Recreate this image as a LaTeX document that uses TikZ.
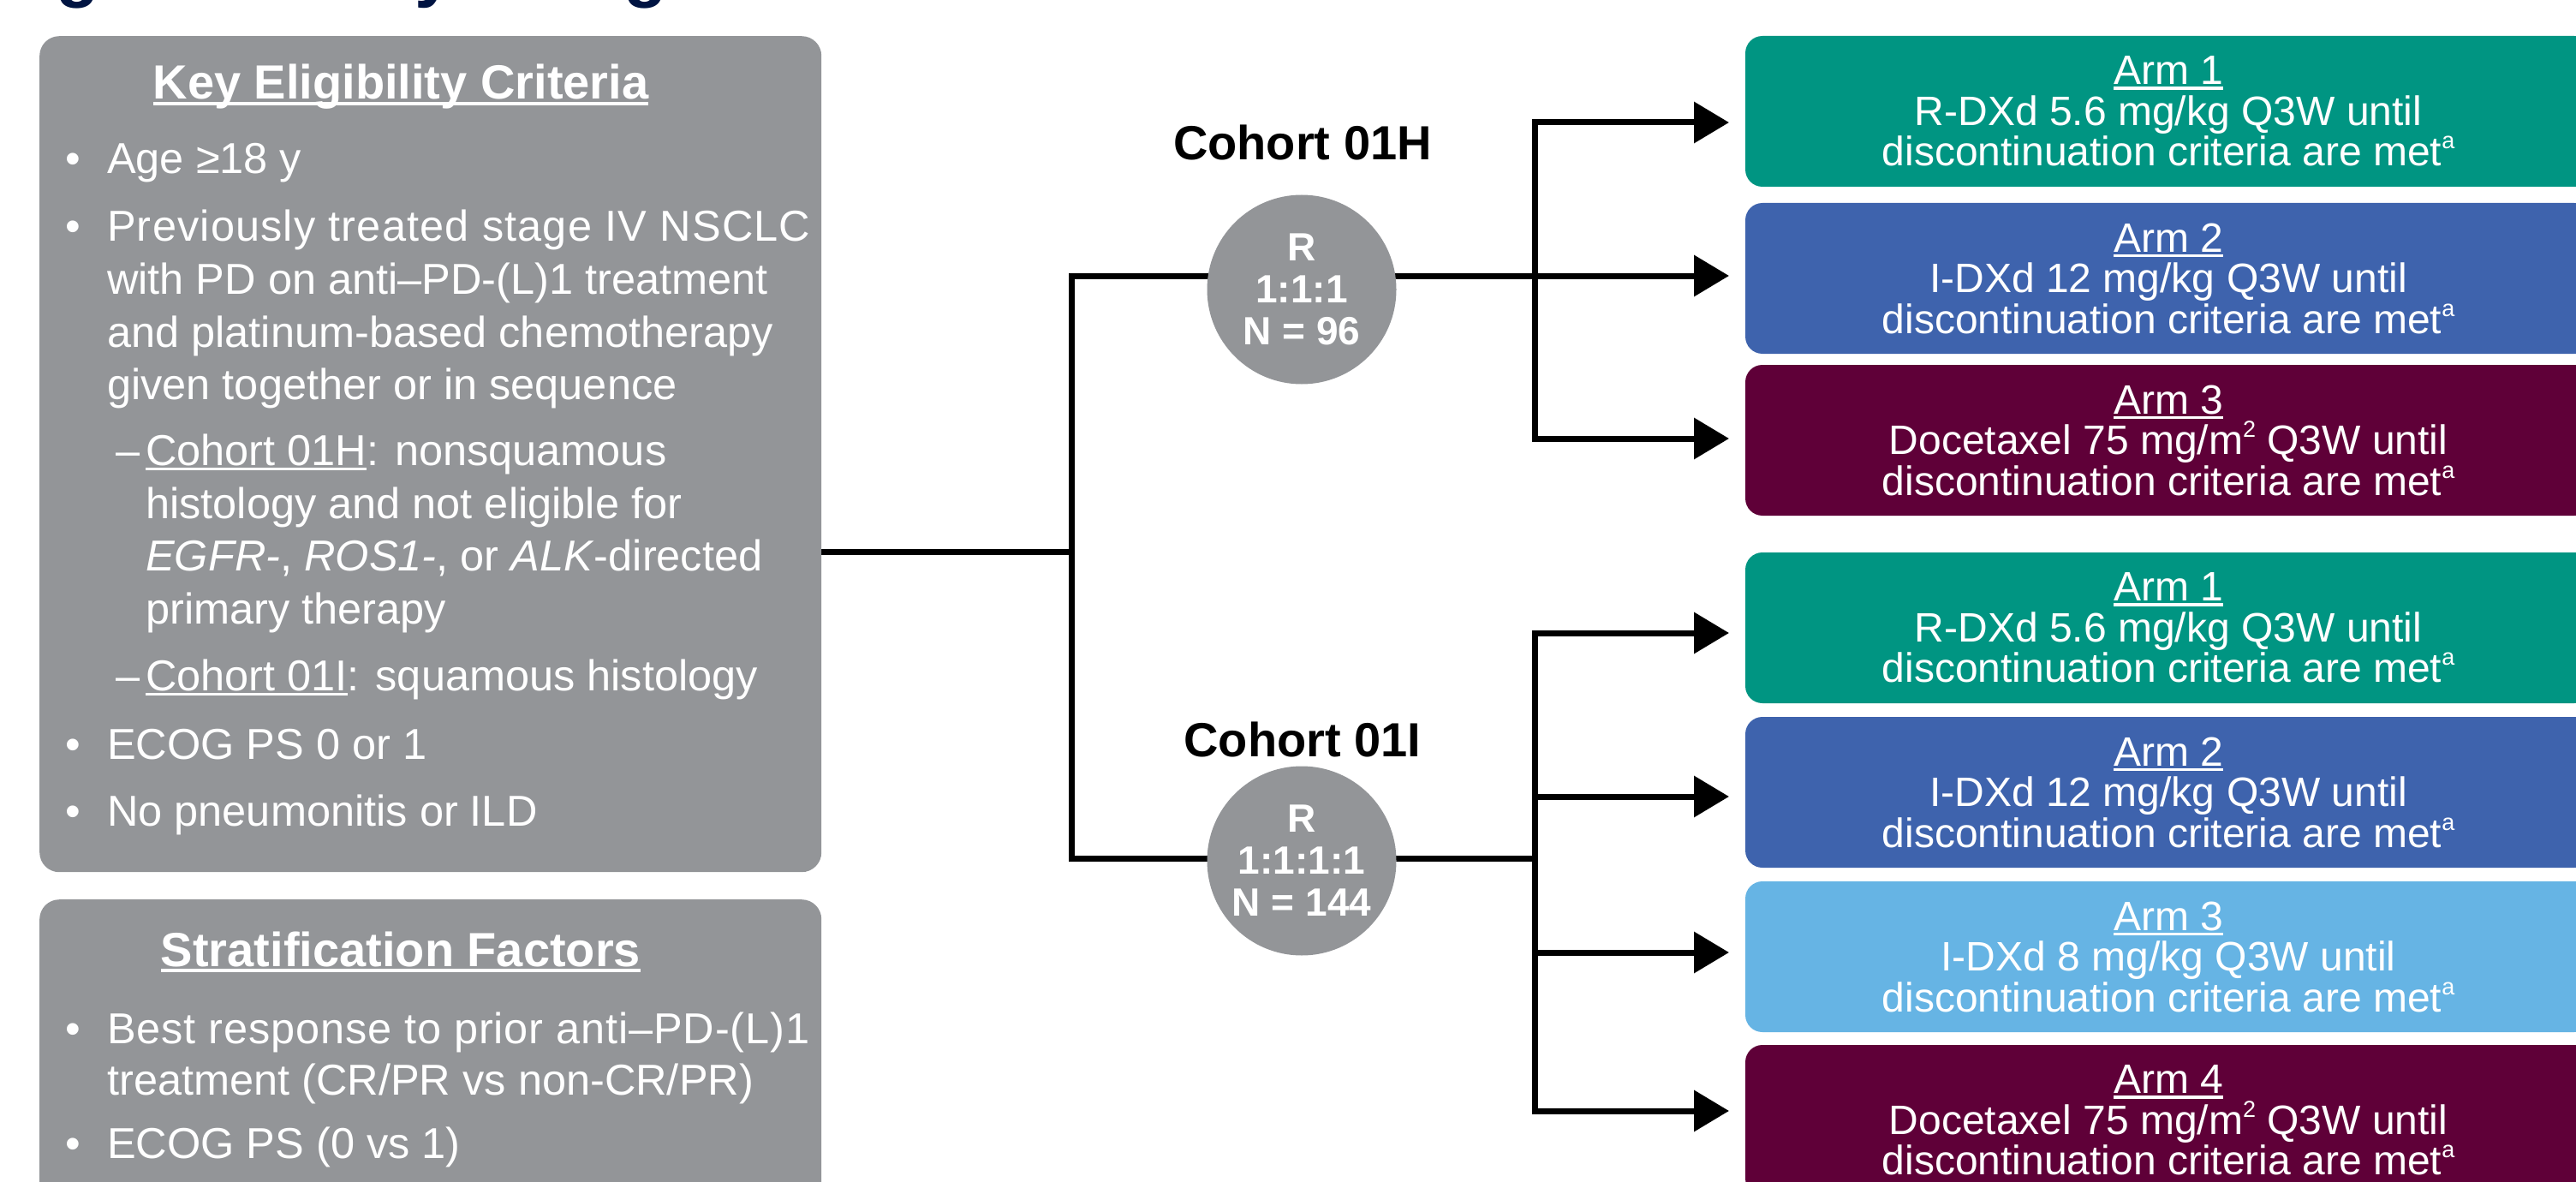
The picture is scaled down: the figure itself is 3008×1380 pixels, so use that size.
\documentclass[tikz,border=0pt]{standalone}
\usepackage{fontspec}
\setmainfont{Liberation Sans}
\usetikzlibrary{arrows.meta}

\definecolor{panelgrey}{RGB}{147,149,152}
\definecolor{armteal}{RGB}{0,149,130}
\definecolor{armblue}{RGB}{62,99,173}
\definecolor{armsky}{RGB}{102,180,228}
\definecolor{armplum}{RGB}{95,0,56}
\definecolor{titlenavy}{RGB}{0,20,66}

% underline drawn just below the baseline, crossing descenders
\newcommand{\ulbox}[1]{\setbox0\hbox{#1}\rlap{\rule[-0.12em]{\wd0}{0.065em}}\box0}
% small raised mark used in the arm boxes
\newcommand{\armsup}[1]{\raisebox{20pt}{\fontsize{27}{27}\selectfont #1}}

\pgfdeclarelayer{bg}
\pgfsetlayers{bg,main}

\begin{document}
\begin{tikzpicture}[x=1pt,y=-1pt,
  panel/.style={fill=panelgrey, rounded corners=23pt, inner sep=0pt, anchor=north west},
  body/.style={text=white, font=\fontsize{50.5}{61.5}\selectfont, inner sep=0pt, anchor=base west},
  bul/.style={text=white, font=\fontsize{50.5}{61.5}\selectfont, inner sep=0pt, anchor=base},
  head/.style={text=white, font=\fontsize{56}{67}\selectfont\bfseries, inner sep=0pt, anchor=base},
  cohort/.style={text=black, font=\fontsize{56}{67}\selectfont\bfseries, inner sep=0pt, anchor=base},
  rnode/.style={circle, fill=panelgrey, minimum size=221pt, inner sep=0pt, text=white,
    align=center, font=\fontsize{46}{49}\selectfont\bfseries},
  arm/.style={rounded corners=20pt, minimum width=988pt, minimum height=176pt, inner sep=0pt,
    text=white, align=center, font=\fontsize{48}{47.5}\selectfont},
  conn/.style={line width=7pt, draw=black},
  arr/.style={conn, -{Triangle[length=41pt,width=47pt]}}]

\useasboundingbox (0,0) rectangle (3008,1380);
\clip (0,0) rectangle (3008,1380);

% title line, running above the top edge
\node[text=titlenavy, font=\fontsize{83}{90}\selectfont\bfseries, inner sep=0pt, anchor=base west]
  (title) at (-8,-7) {Figure. Study Design};

% ---------- eligibility panel ----------
\node[panel, minimum width=913pt, minimum height=976pt] (elig) at (46,42) {};
\node[head] (eh) at (468,116) {\ulbox{Key Eligibility Criteria}};
\node[bul] (b1) at (85,203) {•};
\node[body] (e1) at (125,203) {Age ≥18 y};
\node[bul] (b2) at (85,282) {•};
\node[body] (e2) at (125,282) {\addfontfeatures{LetterSpace=2.3}Previously treated stage IV NSCLC};
\node[body] (e3) at (125,343) {with PD on anti–PD-(L)1 treatment};
\node[body] (e4) at (125,405) {and platinum-based chemotherapy};
\node[body] (e5) at (125,466) {given together or in sequence};
\node[body] (d1) at (135,543) {–};
\node[body] (e6) at (170,543) {\ulbox{Cohort 01H}: nonsquamous};
\node[body] (e7) at (170,605) {histology and not eligible for};
\node[body] (e8) at (170,666) {\textit{EGFR-}, \textit{ROS1-}, or \textit{ALK}-directed};
\node[body] (e9) at (170,728) {primary therapy};
\node[body] (d2) at (135,806) {–};
\node[body] (e10) at (170,806) {\ulbox{Cohort 01I}: squamous histology};
\node[bul] (b3) at (85,886) {•};
\node[body] (e11) at (125,886) {ECOG PS 0 or 1};
\node[bul] (b4) at (85,964) {•};
\node[body] (e12) at (125,964) {No pneumonitis or ILD};

% ---------- stratification panel ----------
\node[panel, minimum width=913pt, minimum height=420pt] (strat) at (46,1050) {};
\node[head] (sh) at (468,1128) {\ulbox{Stratification Factors}};
\node[bul] (b5) at (85,1218) {•};
\node[body] (s1) at (125,1218) {\addfontfeatures{LetterSpace=1.7}Best response to prior anti–PD-(L)1};
\node[body] (s2) at (125,1278) {treatment (CR/PR vs non-CR/PR)};
\node[bul] (b6) at (85,1352) {•};
\node[body] (s3) at (125,1352) {ECOG PS (0 vs 1)};

% ---------- cohorts and randomisation ----------
\node[cohort] (labH) at (1521,187) {Cohort 01H};
\node[rnode] (rH) at (1520,338) {R\\1:1:1\\N = 96};
\node[cohort] (labI) at (1521,883) {Cohort 01I};
\node[rnode] (rI) at (1520,1005) {R\\1:1:1:1\\N = 144};

% ---------- treatment arms ----------
\node[arm, fill=armteal] (h1) at (2532,130) {\ulbox{Arm 1}\\R-DXd 5.6 mg/kg Q3W until\\discontinuation criteria are met\armsup{a}};
\node[arm, fill=armblue] (h2) at (2532,325) {\ulbox{Arm 2}\\I-DXd 12 mg/kg Q3W until\\discontinuation criteria are met\armsup{a}};
\node[arm, fill=armplum] (h3) at (2532,514) {\ulbox{Arm 3}\\Docetaxel 75 mg/m\armsup{2} Q3W until\\discontinuation criteria are met\armsup{a}};

\node[arm, fill=armteal] (i1) at (2532,733) {\ulbox{Arm 1}\\R-DXd 5.6 mg/kg Q3W until\\discontinuation criteria are met\armsup{a}};
\node[arm, fill=armblue] (i2) at (2532,925) {\ulbox{Arm 2}\\I-DXd 12 mg/kg Q3W until\\discontinuation criteria are met\armsup{a}};
\node[arm, fill=armsky] (i3) at (2532,1117) {\ulbox{Arm 3}\\I-DXd 8 mg/kg Q3W until\\discontinuation criteria are met\armsup{a}};
\node[arm, fill=armplum] (i4) at (2532,1308) {\ulbox{Arm 4}\\Docetaxel 75 mg/m\armsup{2} Q3W until\\discontinuation criteria are met\armsup{a}};

% ---------- connectors ----------
\coordinate (jE) at (1251,644);
\coordinate (jH) at (1251,322);
\coordinate (jI) at (1251,1002);
\coordinate (sH) at (1792,322);
\coordinate (sI) at (1792,1002);
\coordinate (tH1) at (2019,143);
\coordinate (tH2) at (2019,322);
\coordinate (tH3) at (2019,512);
\coordinate (tI1) at (2019,739);
\coordinate (tI2) at (2019,930);
\coordinate (tI3) at (2019,1112);
\coordinate (tI4) at (2019,1297);

\begin{pgfonlayer}{bg}
\draw[conn] (elig.east |- jE) -- (jE);
\draw[conn] (rH |- jH) -- (jH) -- (jI) -- (rI |- jI);
\draw[conn] (rH |- jH) -- (sH);
\draw[conn] (rI |- jI) -- (sI);
\end{pgfonlayer}

\draw[arr] (sH) -- (sH |- tH1) -- (tH1);
\draw[arr] (sH) -- (tH2);
\draw[arr] (sH) -- (sH |- tH3) -- (tH3);

\draw[arr] (sI) -- (sI |- tI1) -- (tI1);
\draw[arr] (sI |- tI2) -- (tI2);
\draw[arr] (sI |- tI3) -- (tI3);
\draw[arr] (sI) -- (sI |- tI4) -- (tI4);
\end{tikzpicture}
\end{document}
